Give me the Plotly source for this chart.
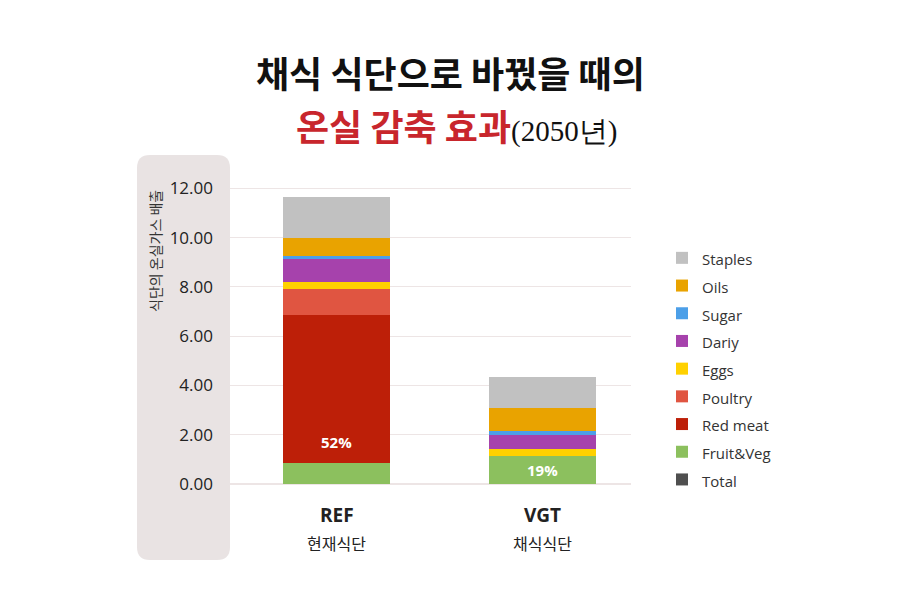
import plotly.graph_objects as go

# diets (x categories) and their labels
diets = ["REF", "VGT"]
diet_names = ["현재식단", "채식식단"]

# food groups, bottom to top of each stack
groups = ["Fruit&Veg", "Red meat", "Poultry", "Eggs", "Dariy", "Sugar", "Oils", "Staples"]
fruit_veg = [0.85, 1.15]
red_meat = [6.02, 0.0]
poultry = [1.05, 0.0]
eggs = [0.29, 0.27]
dairy = [0.92, 0.58]
sugar = [0.12, 0.15]
oils = [0.74, 0.93]
staples = [1.67, 1.26]
total = [0, 0]  # only shown in the legend

red_meat_labels = ["52%", ""]
fruit_veg_labels = ["", "19%"]

colors = {
    "Fruit&Veg": "#8CC05E",
    "Red meat": "#BD1F08",
    "Poultry": "#E05541",
    "Eggs": "#FFD100",
    "Dariy": "#A642AC",
    "Sugar": "#4C9FE8",
    "Oils": "#E9A300",
    "Staples": "#C1C1C1",
    "Total": "#4F4F4F",
}

series = [fruit_veg, red_meat, poultry, eggs, dairy, sugar, oils, staples]
labels = {"Fruit&Veg": fruit_veg_labels}
label_font = dict(color="white", size=15, family="Open Sans", weight="bold")


def legend_name(n):
    return f"<span style='font-size:15px'>{n}</span>"


fig = go.Figure()

fig.add_trace(go.Bar(x=diets, y=total, name=legend_name("Total"),
                     marker_color=colors["Total"], marker_line_width=0, legendrank=1100))

for i, (name, vals) in enumerate(zip(groups, series)):
    fig.add_trace(go.Bar(
        x=diets, y=vals, name=legend_name(name),
        marker_color=colors[name], marker_line_width=0,
        text=labels.get(name), textposition="inside", insidetextanchor="middle",
        textangle=0, constraintext="none", textfont=label_font,
        legendrank=1000 - i,
    ))

W, H, OFF = 900, 600, 8  # page shows the figure 8px in from the top-left
px = lambda v: (v - OFF) / W
py = lambda v: 1 - (v - OFF) / H

# rounded background panel behind the y axis
x0, x1, y0, y1, r = 137, 230, 155, 560, 13
panel = (f"M {px(x0 + r)} {py(y0)} L {px(x1 - r)} {py(y0)} "
         f"Q {px(x1)} {py(y0)} {px(x1)} {py(y0 + r)} L {px(x1)} {py(y1 - r)} "
         f"Q {px(x1)} {py(y1)} {px(x1 - r)} {py(y1)} L {px(x0 + r)} {py(y1)} "
         f"Q {px(x0)} {py(y1)} {px(x0)} {py(y1 - r)} L {px(x0)} {py(y0 + r)} "
         f"Q {px(x0)} {py(y0)} {px(x0 + r)} {py(y0)} Z")

title_font = dict(size=36, color="#111", family="Noto Sans CJK KR", weight="bold")
annotations = [
    dict(text="채식 식단으로 바꿨을 때의", x=px(450), y=py(72), xref="paper", yref="paper",
         xanchor="center", yanchor="middle", showarrow=False, font=title_font),
    dict(text="<span style='color:#C8262C'>온실 감축 효과</span>"
              "<span style='font-size:29px;font-family:Liberation Serif;font-weight:normal;color:#111'>(2050년)</span>",
         x=px(456), y=py(125), xref="paper", yref="paper",
         xanchor="center", yanchor="middle", showarrow=False, font=title_font),
    dict(text="식단의 온실가스 배출", textangle=-90, x=px(155), y=py(251),
         xref="paper", yref="paper", xanchor="center", yanchor="middle", showarrow=False,
         font=dict(size=14, color="#333")),
]
# red meat share, sitting just above the bottom of its segment
for d, t, base in zip(diets, red_meat_labels, fruit_veg):
    if t:
        annotations.append(dict(text=t, x=d, y=base, xref="x", yref="y", yanchor="bottom",
                                yshift=9, showarrow=False, font=label_font))
for d, n in zip(diets, diet_names):
    annotations.append(dict(text=f"<b>{d}</b>", x=d, y=py(515), xref="x", yref="paper",
                            xanchor="center", yanchor="middle", showarrow=False,
                            font=dict(size=19, color="#222", family="Open Sans")))
    annotations.append(dict(text=n, x=d, y=py(543), xref="x", yref="paper",
                            xanchor="center", yanchor="middle", showarrow=False,
                            font=dict(size=16, color="#222")))

fig.update_layout(
    width=W, height=H,
    margin=dict(l=0, r=0, t=0, b=0),
    paper_bgcolor="white", plot_bgcolor="white",
    barmode="stack",
    font=dict(family="Noto Sans CJK KR", color="#222"),
    showlegend=True,
    legend=dict(x=px(662), y=py(239), xanchor="left", yanchor="top",
                font=dict(size=19, color="#333", family="Open Sans"),
                traceorder="normal", tracegroupgap=0),
    shapes=[dict(type="path", path=panel, xref="paper", yref="paper",
                 fillcolor="#E9E3E3", line_width=0, layer="below")],
    annotations=annotations,
)

fig.update_traces(width=0.52)
fig.update_xaxes(
    domain=[px(230), px(631)], range=[-0.52, 1.43],
    showticklabels=False, ticks="",
    showline=False, showgrid=False, automargin=False,
)
fig.update_yaxes(
    domain=[py(484), py(176)], range=[0, 12.5], dtick=2, tickformat=".2f",
    tickfont=dict(size=17, color="#222", family="Open Sans"),
    gridcolor="#EDE5E5", zeroline=True, zerolinecolor="#EDE5E5",
    ticklabelstandoff=16, automargin=False,
)

fig.write_html("out.html")
